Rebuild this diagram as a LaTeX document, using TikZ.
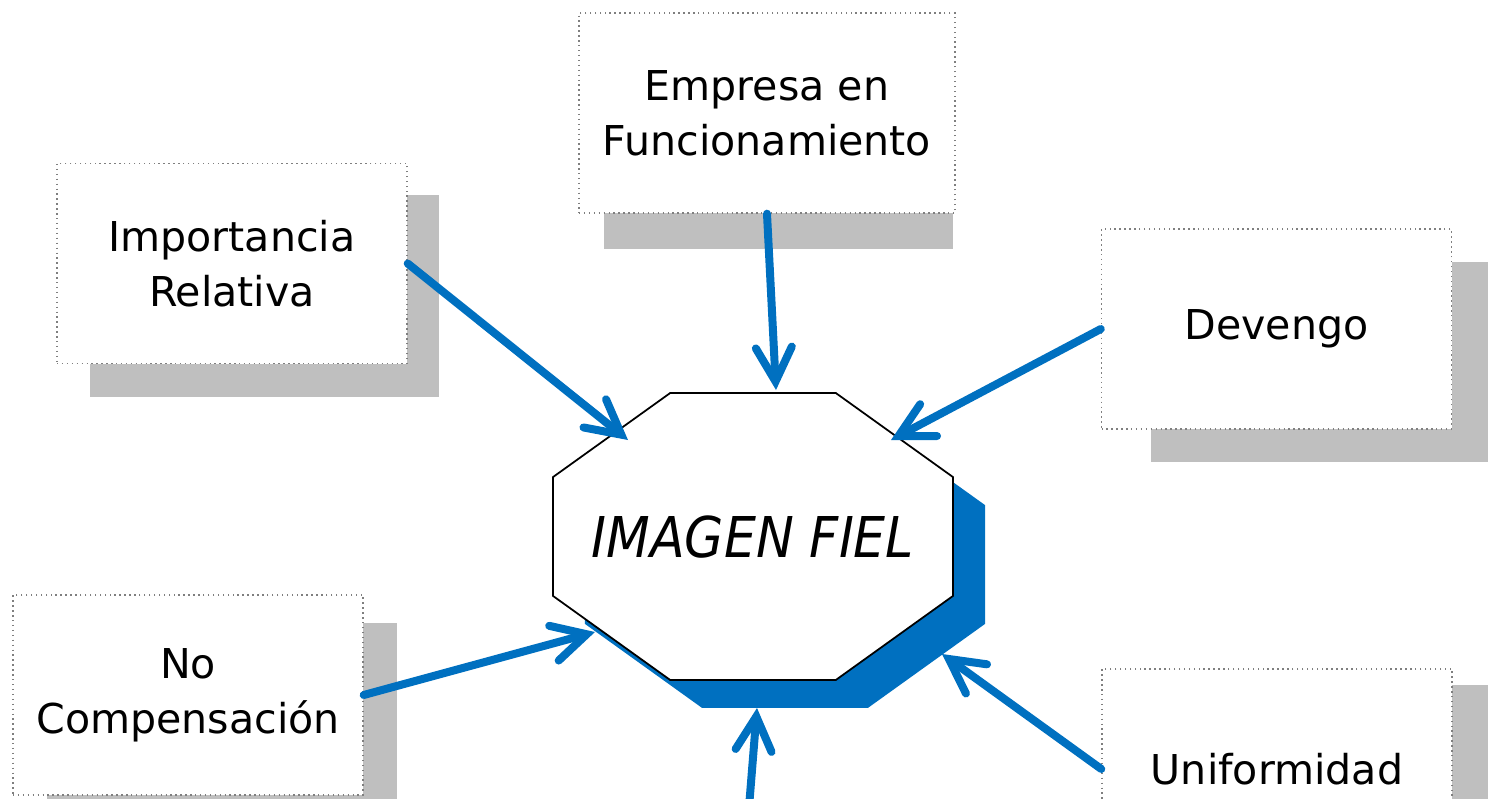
\documentclass[tikz,border=0pt]{standalone}
\usepackage{fontspec}
\setmainfont{DejaVu Sans}
\newfontfamily\condfont{DejaVu Sans Condensed}
\usetikzlibrary{arrows.meta,positioning,calc}
\definecolor{fielblue}{HTML}{0070C0}
\definecolor{shadowgray}{HTML}{BFBFBF}
\definecolor{boxborder}{HTML}{7F7F7F}

\begin{document}
\begin{tikzpicture}[
    principle/.style={
        rectangle,
        minimum width=3.5cm,
        minimum height=2cm,
        align=center,
        font=\fontsize{11.7}{15.6}\selectfont,
        fill=white,
        draw=boxborder,
        densely dotted,
        line width=0.4pt
    },
    octa/.style={
        fill=white,
        draw=black,
        line width=0.5pt
    },
    imagen/.style={
        font=\fontsize{16}{19}\selectfont\condfont\itshape
    },
    arrow/.style={
        -{Straight Barb[length=3.4mm,width=3.6mm,line cap=round]},
        line width=0.08cm,
        line cap=round,
        color=fielblue
    }
]
\useasboundingbox (0,0) rectangle (14.88,-7.99);

% Grey shadows behind the boxes
\foreach \xa/\ya/\xb/\yb in {6.04/-0.49/9.53/-2.49, 0.90/-1.95/4.39/-3.97,
    11.51/-2.62/15.00/-4.62, 0.47/-6.23/3.97/-8.23, 11.51/-6.85/15.00/-8.85} {
    \fill[shadowgray] (\xa,\ya) rectangle (\xb,\yb);
}

% Central octagon with its blue shadow
\fill[fielblue, shift={(7.85,-5.645)}] (22.5:2.165 and 1.553)
    \foreach \a in {67.5,112.5,...,337.5} { -- (\a:2.165 and 1.553) } -- cycle;
\draw[octa, shift={(7.53,-5.365)}] (22.5:2.165 and 1.553)
    \foreach \a in {67.5,112.5,...,337.5} { -- (\a:2.165 and 1.553) } -- cycle;
\node[imagen] (oct) at (7.53,-5.37) {IMAGEN FIEL};

% Principles
\node[principle, minimum width=3.76cm] (emp) at (7.67,-1.13) {Empresa en\\Funcionamiento};
\node[principle] (imp) at (2.32,-2.635) {Importancia\\Relativa};
\node[principle] (dev) at (12.765,-3.29) {Devengo};
\node[principle] (noc) at (1.88,-6.95) {No\\Compensación};
\node[principle] (uni) at (12.77,-7.69) {Uniformidad};

% Arrow tips on the octagon
\coordinate (tipemp) at (7.76,-3.90);
\coordinate (tipimp) at (6.28,-4.40);
\coordinate (tipdev) at (8.91,-4.40);
\coordinate (tipnoc) at (5.95,-6.32);
\coordinate (tipuni) at (9.42,-6.54);
\coordinate (tipbot) at (7.57,-7.08);
\coordinate (botsrc) at (7.48,-8.20);

% Connections from principles to the octagon
\draw[arrow] (emp.south) -- (tipemp);
\draw[arrow] (imp.east) -- (tipimp);
\draw[arrow] (dev.west) -- (tipdev);
\draw[arrow] (noc.east) -- (tipnoc);
\draw[arrow] (uni.west) -- (tipuni);
\draw[arrow] (botsrc) -- (tipbot);

\end{tikzpicture}
\end{document}
